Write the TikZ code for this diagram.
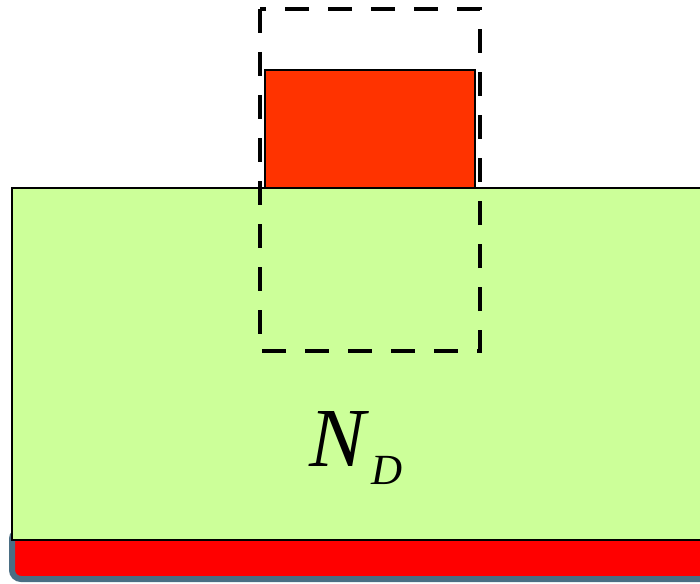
\documentclass[tikz,border=0pt]{standalone}
\usepackage{fontspec}
\setmainfont{Liberation Serif}
\definecolor{substrate}{HTML}{CCFF99}
\definecolor{gatered}{HTML}{FF3300}
\definecolor{contactred}{HTML}{FF0000}
\definecolor{slate}{HTML}{4A6E84}
\tikzset{
  outline/.style={draw=black, line width=2pt},
  dashbox/.style={draw=black, line width=4.5pt, dash pattern=on 24pt off 19pt},
}
\begin{document}
\begin{tikzpicture}[x=1pt,y=-1pt]
\useasboundingbox (0,0) rectangle (700,583);
% back contact
\path[fill=contactred, draw=slate, line width=6pt, rounded corners=9pt]
  (12,530) rectangle (740,579);
% substrate
\path[fill=substrate, outline] (12,188) rectangle (740,540);
% gate
\path[fill=gatered, outline] (265,70) rectangle (475,188);
% dashed box
\path[dashbox] (260,9) rectangle (480,351);
% label
\node[anchor=base west, inner sep=0pt, font=\itshape\fontsize{84}{84}\selectfont] (nd) at (309,466) {N};
\node[anchor=base west, inner sep=0pt, font=\itshape\fontsize{43}{43}\selectfont] (sub) at (371,484) {D};
\end{tikzpicture}
\end{document}
